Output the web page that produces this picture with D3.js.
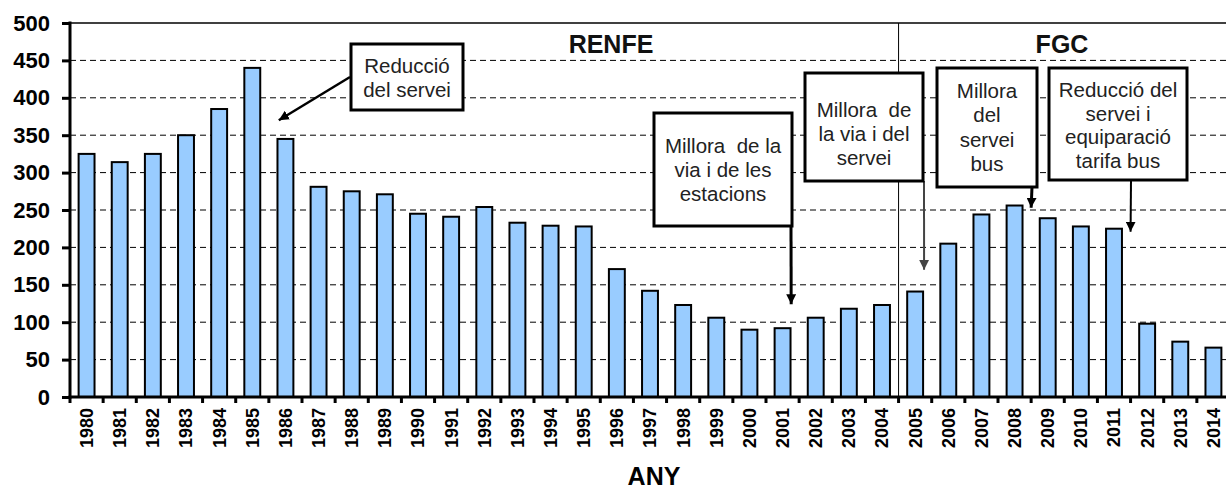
<!DOCTYPE html>
<html>
<head>
<meta charset="utf-8">
<script src="https://cdn.jsdelivr.net/npm/d3@7"></script>
<style>
  html, body { margin: 0; padding: 0; background: #fff; }
  svg { display: block; font-family: "Liberation Sans", Arial, sans-serif; }
</style>
</head>
<body>
<svg id="chart" width="1226" height="489"></svg>
<script>
// ---- data ----
const years = ["1980","1981","1982","1983","1984","1985","1986","1987","1988","1989",
  "1990","1991","1992","1993","1994","1995","1996","1997","1998","1999",
  "2000","2001","2002","2003","2004","2005","2006","2007","2008","2009",
  "2010","2011","2012","2013","2014"];
const values = [325,314,325,350,385,440,345,281,275,271,
  245,241,254,233,229,228,171,142,123,106,
  90,92,106,118,123,141,205,244,256,239,
  228,225,98,74,66];
const yTicks = [0,50,100,150,200,250,300,350,400,450,500];
const periodLabels = ["RENFE","FGC"];
const periodStart = ["1980","2005"];
const xTitle = "ANY";
const notes = [
  ["Reducció","del servei"],
  ["Millora  de la","via i de les","estacions"],
  ["Millora  de","la via i del","servei"],
  ["Millora","del","servei","bus"],
  ["Reducció del","servei i","equiparació","tarifa bus"]
];

// ---- layout ----
const svg = d3.select("#chart");
const L = 70, R = 1230, T = 23, B = 397;
const x = d3.scaleBand().domain(years).range([L, R]).paddingInner(0.52).paddingOuter(0.26);
const y = d3.scaleLinear().domain([0, 500]).range([B, T]);
const step = x.step();
const bound = d => x(d) - step * x.paddingInner() / 2;

// gridlines
svg.append("g").selectAll("line").data(yTicks.filter(v => v > 0 && v < 500)).join("line")
  .attr("x1", L).attr("x2", 1226).attr("y1", d => y(d)).attr("y2", d => y(d))
  .attr("stroke", "#000").attr("stroke-width", 1).attr("stroke-dasharray", "6,4");
svg.append("line").attr("x1", L).attr("x2", 1226).attr("y1", y(500)).attr("y2", y(500))
  .attr("stroke", "#000").attr("stroke-width", 1.5);

// divider between periods
const divX = bound(periodStart[1]);
svg.append("line").attr("x1", divX).attr("x2", divX).attr("y1", y(500)).attr("y2", B)
  .attr("stroke", "#000").attr("stroke-width", 1);

// bars
svg.append("g").selectAll("rect").data(years).join("rect")
  .attr("x", d => x(d)).attr("width", x.bandwidth())
  .attr("y", (d, i) => y(values[i])).attr("height", (d, i) => B - y(values[i]))
  .attr("fill", "#99CCFF").attr("stroke", "#000").attr("stroke-width", 2);

// period labels
svg.append("g").selectAll("text").data(periodLabels).join("text")
  .attr("x", (d, i) => i === 0 ? 611 : 1062).attr("y", 53)
  .attr("text-anchor", "middle").attr("font-weight", "bold").attr("font-size", 25)
  .attr("fill", "#111").text(d => d);

// y axis
const yAxis = svg.append("g").attr("transform", `translate(${L},0)`)
  .call(d3.axisLeft(y).tickValues(yTicks).tickSize(8).tickSizeOuter(0).tickPadding(12));
yAxis.select(".domain").remove();
yAxis.selectAll(".tick line").attr("stroke", "#000").attr("stroke-width", 3);
yAxis.selectAll(".tick text").attr("font-size", 22).attr("font-weight", "bold")
  .attr("fill", "#000").attr("font-family", "Liberation Sans, Arial, sans-serif");
svg.append("line").attr("x1", L).attr("x2", L).attr("y1", T - 1.5).attr("y2", B + 1.5)
  .attr("stroke", "#000").attr("stroke-width", 3);

// x axis
svg.append("line").attr("x1", L - 1.5).attr("x2", 1226).attr("y1", B).attr("y2", B)
  .attr("stroke", "#000").attr("stroke-width", 3);
const bounds = years.map(bound).concat([R]);
svg.append("g").selectAll("line").data(bounds).join("line")
  .attr("x1", d => d).attr("x2", d => d).attr("y1", B).attr("y2", B + 6)
  .attr("stroke", "#000").attr("stroke-width", 3);
svg.append("g").selectAll("text").data(years).join("text")
  .attr("transform", d => `translate(${x(d) + x.bandwidth() / 2},${B + 11}) rotate(-90)`)
  .attr("text-anchor", "end").attr("dy", "0.36em")
  .attr("font-size", 18).attr("font-weight", "bold").attr("fill", "#000")
  .text(d => d);

// x title
svg.append("text").attr("x", 654).attr("y", 485).attr("text-anchor", "middle")
  .attr("font-size", 25).attr("font-weight", "bold").attr("fill", "#000").text(xTitle);

// ---- annotations ----
const defs = svg.append("defs");
function marker(id, color) {
  defs.append("marker").attr("id", id).attr("viewBox", "0 0 10 10")
    .attr("refX", 10).attr("refY", 5).attr("markerWidth", 10).attr("markerHeight", 10)
    .attr("markerUnits", "userSpaceOnUse").attr("orient", "auto")
    .append("path").attr("d", "M0,0 L10,5 L0,10 Z").attr("fill", color);
}
marker("arrK", "#000");
marker("arrG", "#444");

// box layout: [x0, y0, x1, y1, first baseline, line height]
const boxes = [
  [351, 44, 463, 110, 73, 23.5],
  [654, 113, 792, 226, 153, 24],
  [805, 73, 923, 181, 117, 24],
  [937, 68, 1037, 187, 98, 24.3],
  [1049, 68, 1187, 180, 97, 23.7]
];
// arrows: start point (px) and tip given in data space (year, offset within step, value)
const arrows = [
  { from: [350, 77], year: "1986", off: -0.2, val: 370, color: "#000", w: 2.5, m: "arrK" },
  { from: [791, 226], year: "2001", off: 0.26, val: 124, color: "#000", w: 3, m: "arrK" },
  { from: [924, 181], year: "2005", off: 0.27, val: 170, color: "#444", w: 2, m: "arrG" },
  { from: [1032, 187], year: "2009", off: -0.5, val: 253, color: "#000", w: 3, m: "arrK" },
  { from: [1131, 180], year: "2012", off: -0.5, val: 221, color: "#000", w: 2, m: "arrK" }
];

const ag = svg.append("g");
arrows.forEach(a => {
  const tx = x(a.year) + x.bandwidth() / 2 + a.off * step;
  ag.append("line").attr("x1", a.from[0]).attr("y1", a.from[1])
    .attr("x2", tx).attr("y2", y(a.val))
    .attr("stroke", a.color).attr("stroke-width", a.w).attr("marker-end", `url(#${a.m})`);
});

boxes.forEach((b, i) => {
  const g = svg.append("g");
  g.append("rect").attr("x", b[0]).attr("y", b[1]).attr("width", b[2] - b[0]).attr("height", b[3] - b[1])
    .attr("fill", "#fff").attr("stroke", "#000").attr("stroke-width", 3);
  g.selectAll("text").data(notes[i]).join("text")
    .attr("x", (b[0] + b[2]) / 2).attr("y", (d, j) => b[4] + j * b[5])
    .attr("text-anchor", "middle").attr("font-size", 20.5).attr("fill", "#222")
    .attr("xml:space", "preserve").style("white-space", "pre")
    .text(d => d);
});
</script>
</body>
</html>
